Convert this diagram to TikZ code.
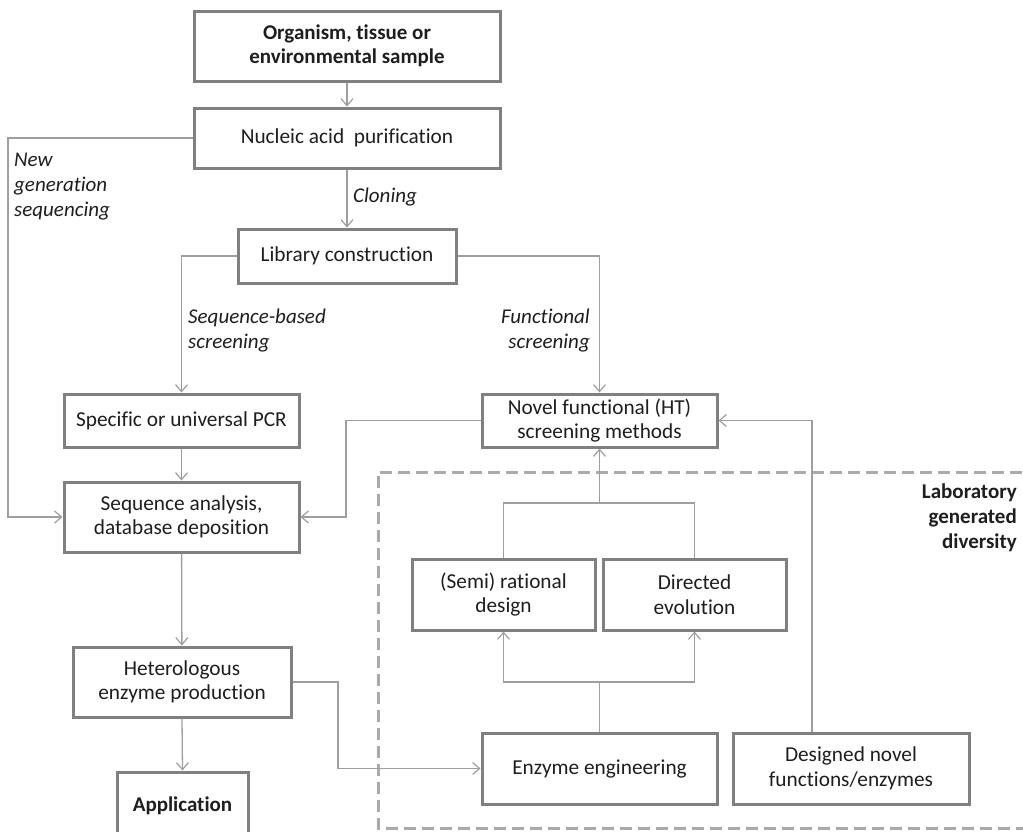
\documentclass[tikz,border=0pt]{standalone}
\usepackage{fontspec}
\setmainfont{Carlito}[Ligatures=NoCommon]
\usetikzlibrary{arrows.meta}
\definecolor{boxgray}{RGB}{128,128,128}
\definecolor{linegray}{RGB}{158,158,158}
\definecolor{dashgray}{RGB}{170,170,170}
\definecolor{txt}{RGB}{30,30,30}
\tikzset{
  box/.style={draw=boxgray, line width=3pt, fill=white, align=center, inner sep=0pt, text=txt},
  conn/.style={draw=linegray, line width=1.3pt},
  arr/.style={conn, -{Straight Barb[length=7pt,width=12pt,line width=1.2pt]}},
  lab/.style={font=\itshape\fontsize{21}{25}\selectfont, text=txt, inner sep=0pt},
}
\begin{document}
\begin{tikzpicture}[x=1pt,y=-1pt, font=\fontsize{21.3}{24.5}\selectfont]
\useasboundingbox (0,0) rectangle (1023,831);
% dashed region
\draw[dashgray, line width=3pt, dash pattern=on 12pt off 6pt] (1040,472) -- (378,472) -- (378,828) -- (1040,828);
\node[font=\bfseries\fontsize{21}{25}\selectfont, align=right, anchor=east, inner sep=0pt, text=txt] (labdiv) at (1017,518) {Laboratory\\generated\\diversity};

% boxes
\node[box, minimum width=306pt, minimum height=70pt, font=\bfseries\fontsize{21}{24.5}\selectfont] (org) at (347,46) {Organism, tissue or\\environmental sample};
\node[box, minimum width=306pt, minimum height=60pt] (nuc) at (347,138) {Nucleic acid~~purification};
\node[box, minimum width=218pt, minimum height=54pt] (lib) at (347,256) {Library construction};
\node[box, minimum width=235pt, minimum height=53pt] (pcr) at (181.5,420.5) {Specific or universal PCR};
\node[box, minimum width=235pt, minimum height=70pt] (seq) at (181.5,517) {Sequence analysis,\\database deposition};
\node[box, minimum width=235pt, minimum height=53pt] (nov) at (599.5,420.5) {Novel functional (HT)\\screening methods};
\node[box, minimum width=183pt, minimum height=71pt] (semi) at (503.5,594.5) {(Semi) rational\\design};
\node[box, minimum width=183pt, minimum height=71pt] (dir) at (694.5,594.5) {Directed\\evolution};
\node[box, minimum width=218pt, minimum height=70pt] (het) at (182,682) {Heterologous\\enzyme production};
\node[box, minimum width=131pt, minimum height=64pt, font=\bfseries\fontsize{21}{24.5}\selectfont, text depth=0pt] (app) at (182.5,804) {Application};
\node[box, minimum width=235pt, minimum height=71pt] (enz) at (599.5,768.5) {Enzyme engineering};
\node[box, minimum width=236pt, minimum height=71pt] (des) at (851,768.5) {Designed novel\\functions/enzymes};

% labels
\node[lab, anchor=west] (clon) at (353,197) {Cloning};
\node[lab, anchor=west, align=left] (ngsl) at (14,187) {New\\generation\\sequencing};
\node[lab, anchor=west, align=left] (sbs) at (188,330.5) {Sequence-based\\screening};
\node[lab, anchor=east, align=right] (fs) at (590,330.5) {Functional\\screening};

% coordinates
\coordinate (ngs) at (8,138);
\coordinate (c1) at (346,470);
\coordinate (c2) at (338,700);
\coordinate (j1) at (599.5,682);
\coordinate (j2) at (599.5,503);

% connectors
\draw[arr] (org) -- (nuc);
\draw[arr] (nuc) -- (lib);
\draw[arr] (lib.west) -| (pcr.north);
\draw[arr] (lib.east) -| (nov.north);
\draw[arr] (pcr) -- (seq);
\draw[arr] (nuc.west) -- (ngs) |- (seq.west);
\draw[arr] (nov.west) -| (c1) |- (seq.east);
\draw[arr] (seq) -- (het);
\draw[arr] (het.south) -- (app.north);
\draw[arr] (het.east) -| (c2) |- (enz.west);
\draw[conn] (enz.north) -- (j1);
\draw[arr] (j1) -| (semi.south);
\draw[arr] (j1) -| (dir.south);
\draw[conn] (semi.north) |- (j2);
\draw[conn] (dir.north) |- (j2);
\draw[arr] (j2) -- (nov.south);
\draw[arr] ([xshift=-39pt]des.north) |- (nov.east);
\end{tikzpicture}
\end{document}
